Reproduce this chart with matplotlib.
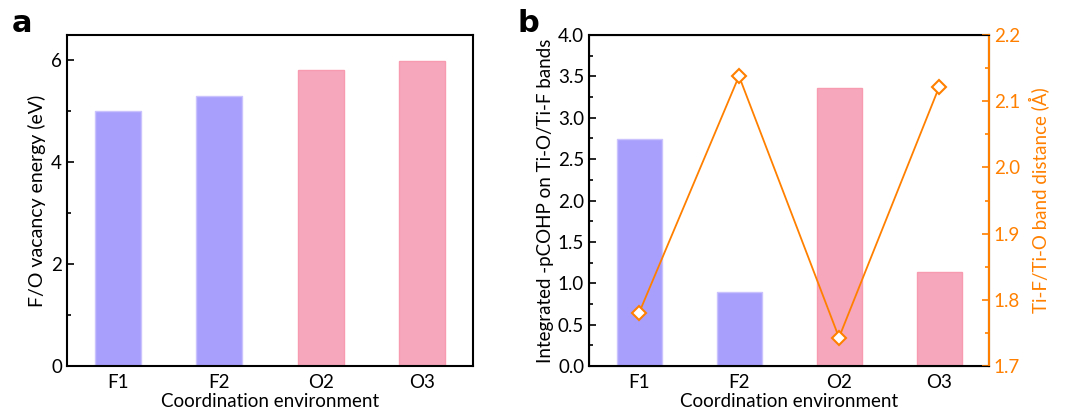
import numpy as np
import matplotlib
matplotlib.use("Agg")
import matplotlib.pyplot as plt
from matplotlib.ticker import MultipleLocator, FormatStrFormatter

plt.rcParams["font.family"] = ["Lato", "DejaVu Sans"]
plt.rcParams["font.size"] = 13

sites = ["F1", "F2", "O2", "O3"]
vacancy_energy = [5.00, 5.30, 5.81, 5.99]
icohp = [2.74, 0.89, 3.36, 1.13]
bond_dist = [1.780, 2.138, 1.743, 2.121]

BLUE = "#a89efc"
PINK = "#f6a7bb"
ORANGE = "#ff8000"
bar_colors = [BLUE, BLUE, PINK, PINK]
edge_colors = ["#c9c2fd", "#c9c2fd", "#f79bb1", "#f79bb1"]

fig = plt.figure(figsize=(10.78, 4.18), dpi=100)
ax1 = fig.add_axes([67 / 1078, 1 - 366 / 418, 406 / 1078, 331 / 418])
ax2 = fig.add_axes([589 / 1078, 1 - 366 / 418, 400 / 1078, 331 / 418])

x = np.arange(len(sites))


def style(ax):
    for s in ax.spines.values():
        s.set_linewidth(1.5)
    ax.tick_params(axis="y", which="major", direction="in", length=5, width=1.2, labelsize=13.5)
    ax.tick_params(axis="y", which="minor", direction="in", length=3, width=1.2)
    ax.tick_params(axis="x", length=0, labelsize=13.5, pad=6)
    ax.set_xticks(x)
    ax.set_xticklabels(sites)
    ax.set_xlim(-0.5, 3.5)
    ax.set_xlabel("Coordination environment", fontsize=13.5, labelpad=1)


# panel a
ax1.bar(x, vacancy_energy, width=0.45, color=bar_colors, edgecolor=edge_colors, linewidth=1)
ax1.set_ylim(0, 6.5)
ax1.yaxis.set_major_locator(MultipleLocator(2))
ax1.yaxis.set_minor_locator(MultipleLocator(1))
style(ax1)
ax1.set_ylabel("F/O vacancy energy (eV)", fontsize=14)

# panel b
ax2.bar(x, icohp, width=0.45, color=bar_colors, edgecolor=edge_colors, linewidth=1)
ax2.set_ylim(0, 4)
ax2.yaxis.set_major_locator(MultipleLocator(0.5))
ax2.yaxis.set_minor_locator(MultipleLocator(0.25))
ax2.yaxis.set_major_formatter(FormatStrFormatter("%.1f"))
style(ax2)
ax2.set_ylabel("Integrated -pCOHP on Ti-O/Ti-F bands", fontsize=13.5, labelpad=3)

ax3 = ax2.twinx()
ax3.plot(x, bond_dist, "-D", color=ORANGE, lw=1.3, ms=7, mfc="white", mec=ORANGE, mew=1.5)
ax3.set_ylim(1.7, 2.2)
ax3.yaxis.set_major_locator(MultipleLocator(0.1))
ax3.yaxis.set_minor_locator(MultipleLocator(0.05))
ax3.yaxis.set_major_formatter(FormatStrFormatter("%.1f"))
ax3.spines["right"].set_color(ORANGE)
ax3.spines["right"].set_linewidth(1.5)
ax3.tick_params(axis="y", which="major", direction="in", length=5, width=1.2,
                colors=ORANGE, labelsize=13.5)
ax3.tick_params(axis="y", which="minor", direction="in", length=3, width=1.2, colors=ORANGE)
ax3.set_ylabel("Ti-F/Ti-O band distance (Å)", fontsize=13.5, color=ORANGE, labelpad=6)

fig.text(12 / 1078, 1 - 32 / 418, "a", fontsize=22, fontweight="bold", family="DejaVu Sans")
fig.text(517 / 1078, 1 - 32 / 418, "b", fontsize=22, fontweight="bold", family="DejaVu Sans")

fig.savefig("out.png", dpi=100)
